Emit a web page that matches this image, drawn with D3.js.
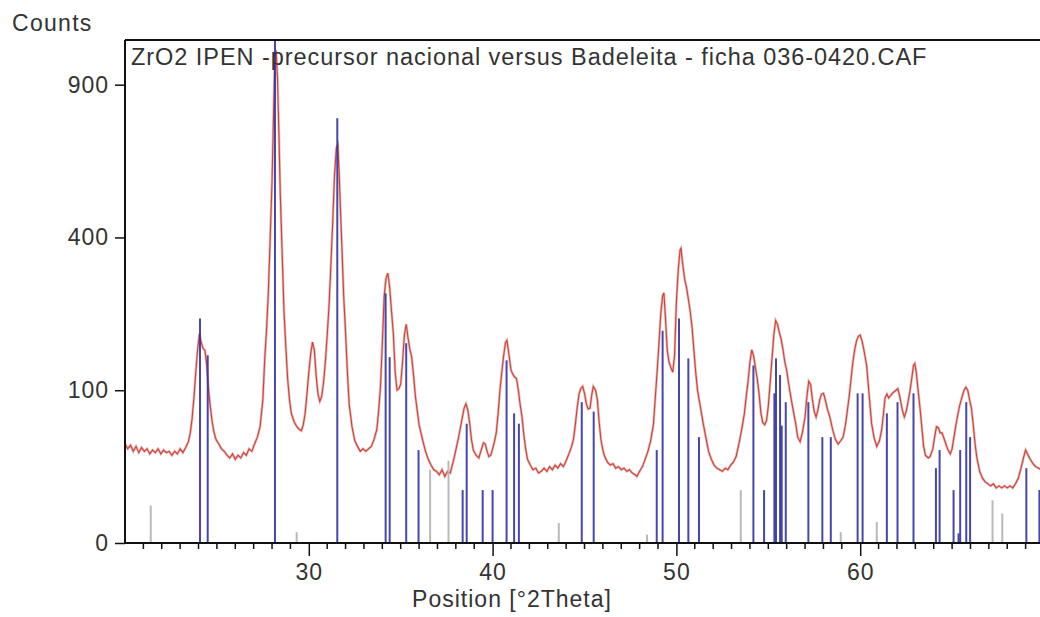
<!DOCTYPE html>
<html>
<head>
<meta charset="utf-8">
<script src="https://cdn.jsdelivr.net/npm/d3@7"></script>
<style>
  html, body { margin: 0; padding: 0; background: #fff; }
  svg { display: block; }
  text { font-family: "Liberation Sans", Arial, sans-serif; fill: #333; }
</style>
</head>
<body>
<svg width="1040" height="617"></svg>
<script>
let scanAngle = [20.0,20.15,20.3,20.45,20.6,20.75,20.9,21.05,21.2,21.35,21.5,21.65,21.8,21.95,22.1,22.25,22.4,22.55,22.7,22.85,23.0,23.15,23.3,23.45,23.55,23.65,23.75,23.85,23.95,24.05,24.15,24.25,24.35,24.45,24.55,24.65,24.75,24.85,24.95,25.1,25.25,25.4,25.55,25.7,25.85,26.0,26.15,26.3,26.45,26.6,26.75,26.9,27.05,27.2,27.35,27.5,27.6,27.7,27.8,27.9,28.0,28.08,28.15,28.22,28.3,28.38,28.45,28.55,28.65,28.75,28.85,28.95,29.05,29.2,29.35,29.5,29.6,29.7,29.8,29.9,30.0,30.1,30.2,30.3,30.4,30.5,30.6,30.7,30.8,30.9,31.0,31.1,31.2,31.3,31.4,31.5,31.58,31.65,31.72,31.8,31.9,32.0,32.1,32.2,32.35,32.5,32.65,32.8,32.95,33.1,33.25,33.4,33.55,33.7,33.8,33.9,34.0,34.1,34.2,34.3,34.4,34.5,34.6,34.7,34.8,34.9,35.0,35.1,35.2,35.3,35.4,35.5,35.6,35.7,35.8,35.9,36.0,36.1,36.2,36.35,36.5,36.65,36.8,36.95,37.1,37.25,37.4,37.55,37.7,37.85,38.0,38.15,38.3,38.45,38.55,38.65,38.75,38.85,38.95,39.1,39.25,39.4,39.5,39.6,39.7,39.8,39.9,40.0,40.1,40.2,40.3,40.4,40.5,40.6,40.7,40.78,40.9,41.0,41.1,41.2,41.3,41.4,41.5,41.6,41.7,41.8,41.9,42.05,42.2,42.35,42.5,42.65,42.8,42.95,43.1,43.25,43.4,43.55,43.7,43.85,44.0,44.15,44.3,44.4,44.5,44.6,44.7,44.8,44.9,45.0,45.1,45.2,45.3,45.4,45.48,45.6,45.7,45.8,45.9,46.0,46.1,46.25,46.4,46.55,46.7,46.85,47.0,47.15,47.3,47.45,47.6,47.75,47.85,48.0,48.15,48.3,48.45,48.6,48.75,48.85,48.95,49.05,49.15,49.25,49.32,49.4,49.5,49.6,49.7,49.8,49.9,50.0,50.1,50.2,50.25,50.35,50.45,50.55,50.65,50.75,50.85,50.95,51.05,51.15,51.3,51.45,51.6,51.75,51.9,52.05,52.2,52.35,52.5,52.65,52.8,52.95,53.1,53.25,53.4,53.55,53.7,53.8,53.9,54.0,54.1,54.2,54.3,54.4,54.5,54.6,54.7,54.8,54.9,55.0,55.1,55.2,55.3,55.4,55.5,55.6,55.7,55.8,55.9,56.0,56.1,56.2,56.35,56.5,56.6,56.73,56.85,57.0,57.1,57.2,57.3,57.4,57.5,57.6,57.7,57.8,57.9,58.0,58.1,58.2,58.35,58.5,58.65,58.8,58.95,59.07,59.2,59.3,59.4,59.5,59.6,59.7,59.8,59.9,60.0,60.1,60.2,60.35,60.5,60.62,60.75,60.9,61.05,61.17,61.27,61.35,61.45,61.55,61.65,61.75,61.85,61.95,62.05,62.15,62.3,62.4,62.5,62.6,62.7,62.8,62.9,62.97,63.05,63.15,63.25,63.35,63.45,63.55,63.7,63.8,63.95,64.05,64.15,64.25,64.35,64.45,64.6,64.75,64.9,65.0,65.1,65.25,65.4,65.55,65.65,65.75,65.85,65.95,66.05,66.15,66.25,66.35,66.5,66.65,66.8,66.95,67.1,67.25,67.4,67.55,67.7,67.85,68.0,68.15,68.3,68.45,68.6,68.75,68.9,69.0,69.1,69.25,69.4,69.55,69.7,69.85,70.0];
let scanCounts = [42,38,41,36,40,35,39,36,38,34,37,35,38,34,37,35,36,33,36,34,38,35,39,44,52,66,90,125,160,188,172,162,159,135,100,78,62,52,46,42,38,36,33,31,34,30,33,31,35,33,38,36,42,48,58,88,143,195,270,400,560,780,1000,1040,920,700,520,360,230,165,115,88,72,63,58,55,54,60,72,95,125,152,173,160,120,95,86,92,110,140,185,240,330,440,580,670,680,590,480,376,260,190,125,82,58,45,40,36,38,36,38,40,46,55,75,105,170,260,300,312,280,230,188,125,100,102,108,140,185,205,180,160,148,120,92,75,60,52,45,36,30,26,23,22,20,23,19,22,21,28,37,48,62,78,83,76,62,46,37,33,31,38,43,42,36,32,33,38,44,52,72,100,125,150,172,176,150,128,122,118,116,100,82,68,50,38,30,26,23,24,21,22,24,22,25,23,26,24,27,25,29,34,40,46,60,78,95,102,105,96,83,77,78,95,105,100,88,62,45,37,32,28,26,27,24,25,23,24,22,23,21,20,19,22,25,30,36,45,60,90,125,170,225,262,268,220,160,140,132,125,150,250,320,368,372,330,298,280,255,230,200,160,125,100,80,62,48,36,30,26,24,23,22,24,23,26,28,32,42,55,72,92,112,140,160,150,132,115,95,72,62,60,64,80,110,145,185,212,205,190,178,160,140,128,110,95,76,60,48,44,52,68,92,112,108,88,74,68,76,88,95,96,88,78,68,55,46,42,45,48,60,75,92,115,140,160,175,183,185,175,160,135,90,61,48,40,45,55,72,90,95,90,93,96,98,100,102,92,75,68,74,85,98,115,135,138,125,100,79,58,40,33,31,32,38,48,58,57,52,52,45,38,34,38,48,64,80,92,100,104,100,88,78,60,42,31,22,18,16,15,14,15,13,14,13,14,13,14,13,15,18,24,32,37,34,30,27,25,24,23,22];

// reference pattern lines (Badeleita, ficha 036-0420)
let refAngle = [24.08,24.5,28.16,31.55,34.18,34.4,35.3,35.97,38.37,38.59,39.46,40.0,40.76,41.17,41.43,44.85,45.5,48.93,49.25,50.14,50.65,51.23,54.19,54.77,55.33,55.42,55.64,55.73,55.95,57.18,57.94,58.4,59.86,60.13,61.45,62.03,62.9,64.12,64.32,65.08,65.35,65.44,65.77,65.98,69.04,69.75];
let refCounts = [216,151,1100,773,267,148,171,37,12,61,12,12,143,72,61,85,74,37,193,216,146,48,135,12,96,146,121,59,85,85,48,48,96,96,72,85,96,24,37,12,0.4,37,85,48,24,12];

// weak lines of the second pattern (grey)
let otherAngle = [21.4,29.34,36.6,37.6,43.6,48.4,53.5,58.94,60.9,67.2,67.73];
let otherCounts = [6,0.5,23,29,1.7,0.3,12,0.5,1.9,7.8,3.7];

let yTicks = [0, 100, 400, 900];
let xTicks = [30, 40, 50, 60];

let svg = d3.select("svg");
let plotLeft = 125, plotRight = 1044, plotTop = 40, plotBottom = 543;

let x = d3.scaleLinear().domain([20, 70]).range([plotLeft, plotRight]);
let y = d3.scaleSqrt().domain([0, 1084]).range([plotBottom, plotTop]);

svg.append("defs").append("clipPath").attr("id", "plot")
    .append("rect").attr("x", plotLeft).attr("y", plotTop)
    .attr("width", plotRight - plotLeft).attr("height", plotBottom - plotTop);

let scan = scanAngle.map((a, i) => [a, scanCounts[i]]);
let line = d3.line().x(d => x(d[0])).y(d => y(d[1]));

let plot = svg.append("g").attr("clip-path", "url(#plot)");

// pale calculated trace under the measured one
plot.append("path").datum(scan)
    .attr("d", line).attr("fill", "none")
    .attr("stroke", "#d3c3c3").attr("stroke-width", 2.6);
plot.append("path").datum(scan)
    .attr("d", line).attr("fill", "none")
    .attr("stroke", "#e2392c").attr("stroke-width", 1.1);

plot.selectAll("line.other")
    .data(otherAngle.map((a, i) => [a, otherCounts[i]]))
    .enter().append("line").attr("class", "other")
    .attr("x1", d => x(d[0])).attr("x2", d => x(d[0]))
    .attr("y1", y(0)).attr("y2", d => y(d[1]))
    .attr("stroke", "#b9b9b9").attr("stroke-width", 2);

plot.selectAll("line.ref")
    .data(refAngle.map((a, i) => [a, refCounts[i]]))
    .enter().append("line").attr("class", "ref")
    .attr("x1", d => x(d[0])).attr("x2", d => x(d[0]))
    .attr("y1", y(0)).attr("y2", d => y(d[1]))
    .attr("stroke", "#3333a6").attr("stroke-width", 2).attr("opacity", 0.9);

// frame: top border, left and bottom axes
svg.append("line").attr("x1", plotLeft).attr("x2", 1040).attr("y1", plotTop).attr("y2", plotTop)
    .attr("stroke", "#111").attr("stroke-width", 2);

let yAxis = d3.axisLeft(y).tickValues(yTicks).tickSize(10).tickSizeOuter(0).tickPadding(6);
let gy = svg.append("g").attr("transform", `translate(${plotLeft},0)`).call(yAxis);
gy.select(".domain").attr("stroke", "#111").attr("stroke-width", 2).attr("d", `M0,${plotTop}V${plotBottom + 1}`);
gy.selectAll(".tick line").attr("stroke", "#111").attr("stroke-width", 1.5);
gy.selectAll("text").style("font-size", "23px").style("letter-spacing", "1px").attr("fill", "#333");

let minor = d3.range(21, 70);
let gxMinor = svg.append("g");
gxMinor.selectAll("line").data(minor.filter(v => xTicks.indexOf(v) < 0))
    .enter().append("line")
    .attr("x1", d => x(d)).attr("x2", d => x(d))
    .attr("y1", plotBottom).attr("y2", plotBottom + 6)
    .attr("stroke", "#111").attr("stroke-width", 1.5);

let xAxis = d3.axisBottom(x).tickValues(xTicks).tickSize(13).tickSizeOuter(0).tickPadding(8);
let gx = svg.append("g").attr("transform", `translate(0,${plotBottom})`).call(xAxis);
gx.select(".domain").attr("stroke", "#111").attr("stroke-width", 2).attr("d", `M${plotLeft - 1},0H1040`);
gx.selectAll(".tick line").attr("stroke", "#111").attr("stroke-width", 1.5);
gx.selectAll("text").style("font-size", "23px").style("letter-spacing", "1px").attr("fill", "#333");

svg.append("text").attr("x", 12).attr("y", 31)
    .style("font-size", "23px").style("letter-spacing", "1.3px")
    .text("Counts");

svg.append("text").attr("x", 131).attr("y", 65)
    .style("font-size", "23.5px").style("letter-spacing", "0.95px")
    .text("ZrO2 IPEN -precursor nacional versus Badeleita - ficha 036-0420.CAF");

svg.append("text").attr("x", 512).attr("y", 607).attr("text-anchor", "middle")
    .style("font-size", "23px").style("letter-spacing", "1px")
    .text("Position [°2Theta]");
</script>
</body>
</html>
